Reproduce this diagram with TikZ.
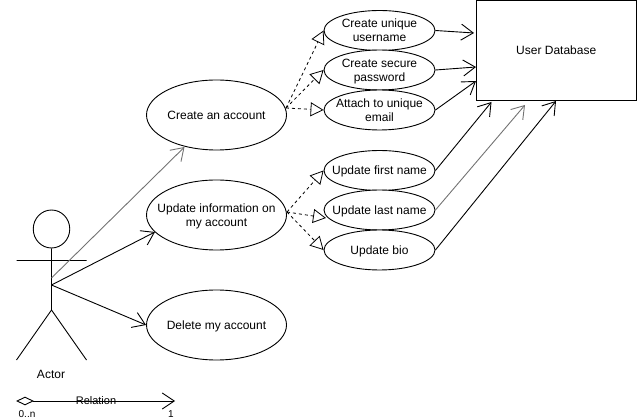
\documentclass[tikz,border=0pt]{standalone}
\usepackage{fontspec}
\setmainfont{Liberation Sans}
\usetikzlibrary{arrows.meta,shapes.geometric}
\tikzset{
  x=1pt,y=-1pt,
  every node/.style={font=\fontsize{12}{14}\selectfont,align=center,text depth=-2pt},
  usecase/.style={draw,ellipse,inner sep=-12pt,minimum width=140pt,minimum height=70pt,line width=0.9pt,fill=white},
  subcase/.style={usecase,minimum width=111pt,minimum height=40pt},
  assoc/.style={line width=0.9pt,-{Straight Barb[length=12pt,width=16pt,line width=0.9pt]}},
  assocgray/.style={assoc,draw=black!55},
  extends/.style={line width=0.8pt,dashed,dash pattern=on 3pt off 3pt,-{Triangle[open,length=13pt,width=14pt,line width=0.8pt]}},
  stick/.style={line width=0.9pt},
  small/.style={font=\fontsize{10}{12}\selectfont,inner sep=0pt},
}
\begin{document}
\begin{tikzpicture}
\useasboundingbox (0,0) rectangle (637,419);
% database
\node[draw,line width=0.9pt,minimum width=159.5pt,minimum height=100pt] (db) at (556.25,50.5) {User Database};
% use cases
\node[usecase] (create) at (216.5,115) {Create an account};
\node[usecase] (update) at (216.5,215) {Update information on\\my account};
\node[usecase] (delete) at (216.5,325) {Delete my account};
\node[subcase] (uname) at (379.5,30.5) {Create unique\\username};
\node[subcase] (pass) at (379.5,70) {Create secure\\password};
\node[subcase] (email) at (379.5,110) {Attach to unique\\email};
\node[subcase] (first) at (379.5,170.5) {Update first name};
\node[subcase] (last) at (379.5,210) {Update last name};
\node[subcase] (bio) at (379.5,250) {Update bio};
% actor
\node[draw,stick,ellipse,inner sep=0pt,minimum width=36.5pt,minimum height=38pt] (head) at (51.5,229) {};
\coordinate (hip) at (51.5,310);
\coordinate (armL) at (16.5,260.5);
\coordinate (armR) at (86.5,260.5);
\coordinate (legL) at (16.5,360);
\coordinate (legR) at (86.5,360);
\coordinate (root) at (51.5,285);
\coordinate (rootg) at (51.5,278);
\draw[stick] (head.south) -- (hip) (armL) -- (armR) (legL) -- (hip) -- (legR);
\node (actor) at (51,374.5) {Actor};
% actor links
\coordinate (createEnd) at (184.5,147);
\coordinate (updateEnd) at (155,232);
\draw[assocgray] (rootg) -- (createEnd);
\draw[assoc] (root) -- (updateEnd);
\draw[assoc] (root) -- (delete.west);
% extends
\coordinate (cs) at (286,108);
\coordinate (us) at (287,212);
\draw[extends] (cs) -- (uname.west);
\draw[extends] (cs) -- (pass.west);
\draw[extends] (cs) -- (email.west);
\draw[extends] (us) -- (first.west);
\coordinate (lastEnd) at (326,218);
\draw[extends] (us) -- (lastEnd);
\draw[extends] (us) -- (bio.west);
% database links
\coordinate (d1) at (474,33);
\coordinate (d2) at (476,67);
\coordinate (d3) at (476,81);
\coordinate (d4) at (491.5,102);
\coordinate (d5) at (525,105);
\coordinate (d6) at (556,101);
\draw[assoc] (uname.east) -- (d1);
\draw[assoc] (pass.east) -- (d2);
\draw[assoc] (email.east) -- (d3);
\draw[assoc] (first.east) -- (d4);
\draw[assocgray] (last.east) -- (d5);
\draw[assoc] (bio.east) -- (d6);
% legend
\node[draw,diamond,line width=0.9pt,inner sep=0pt,minimum width=16pt,minimum height=8pt] (src) at (25,401) {};
\coordinate (dst) at (175,401);
\draw[assoc] (src) -- (dst);
\node[small,font=\fontsize{11}{13}\selectfont] (rel) at (96,401) {Relation};
\node[small] (zero) at (27,414) {0..n};
\node[small] (one) at (171,414) {1};
\end{tikzpicture}
\end{document}
